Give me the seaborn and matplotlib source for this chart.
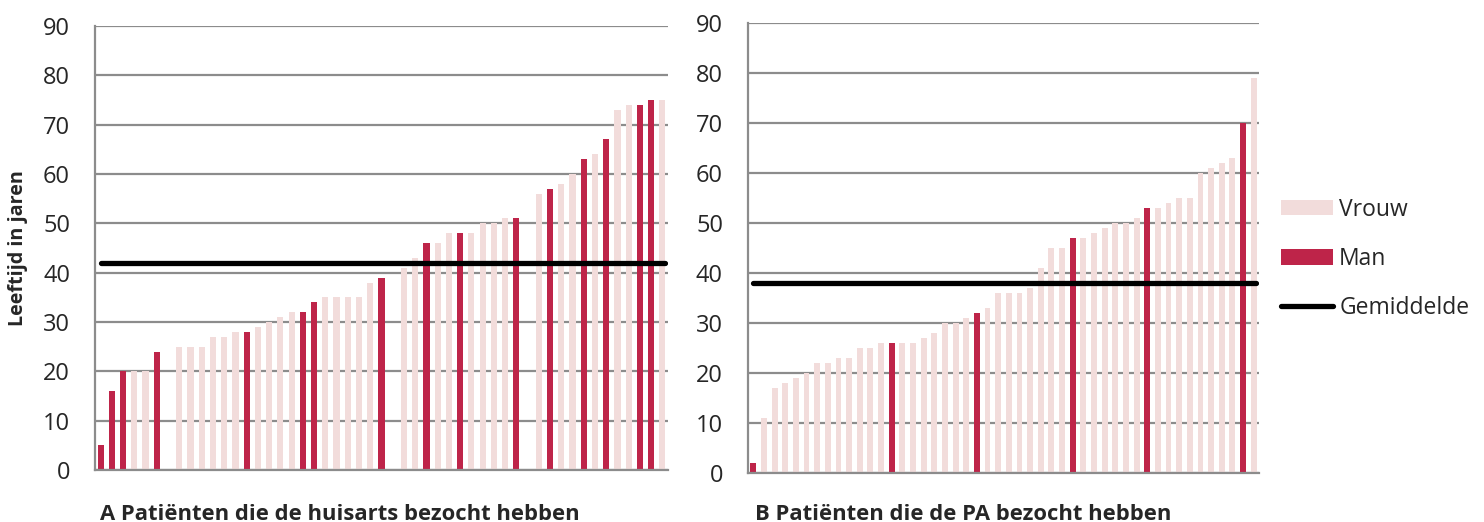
import numpy as np
import pandas as pd
import matplotlib
matplotlib.use('Agg')
import matplotlib.pyplot as plt
import seaborn as sns
from matplotlib.patches import Patch
from matplotlib.lines import Line2D

# leeftijd per patient, None = lege plek in de grafiek
ages_a = [5, 16, 20, 20, 20, 24, None, 25, 25, 25, 27, 27, 28, 28, 29, 30, 31, 32, 32, 34,
          35, 35, 35, 35, 38, 39, None, 41, 43, 46, 46, 48, 48, 48, 50, 50, 51, 51, None, 56,
          57, 58, 60, 63, 64, 67, 73, 74, 74, 75, 75]
sex_a = list('MMMVVM-VVVVVVMVVVVMMVVVVVM-VVMVVMVVVVM-VMVVMVMVVMMV')
mean_a = 42

ages_b = [2, 11, 17, 18, 19, 20, 22, 22, 23, 23, 25, 25, 26, 26, 26, 26, 27, 28, 30, 30,
          31, 32, 33, 36, 36, 36, 37, 41, 45, 45, 47, 47, 48, 49, 50, 50, 51, 53, 53, 54,
          55, 55, 60, 61, 62, 63, 70, 79]
sex_b = list('MVVVVVVVVVVVVMVVVVVVVMVVVVVVVVMVVVVVVMVVVVVVVVMV')
mean_b = 38

titles = ['A Patiënten die de huisarts bezocht hebben', 'B Patiënten die de PA bezocht hebben']
sex_names = {'V': 'Vrouw', 'M': 'Man'}

LIGHT = '#F2DCDB'
DARK = '#BE2449'
GRID = '#8C8C8C'

sns.set_style('white')
plt.rcParams['font.family'] = ['Open Sans', 'DejaVu Sans']

fig = plt.figure(figsize=(14.84, 5.22), dpi=100)
W, H = 1484, 522
ax_a = fig.add_axes([95 / W, 1 - 470 / H, 573 / W, 444 / H])
ax_b = fig.add_axes([748 / W, 1 - 473 / H, 511 / W, 450 / H])


def draw_panel(ax, ages, sexes, mean, title, title_x):
    n = len(ages)
    order = [str(i) for i in range(n)]
    df = pd.DataFrame({'pos': order, 'leeftijd': ages, 'sex': sexes})
    df = df[df['sex'] != '-'].copy()
    df['geslacht'] = df['sex'].map(sex_names)
    df['leeftijd'] = df['leeftijd'].astype(float)
    sns.barplot(data=df, x='pos', y='leeftijd', hue='geslacht', order=order,
                hue_order=['Vrouw', 'Man'], palette={'Vrouw': LIGHT, 'Man': DARK},
                dodge=False, width=0.55, errorbar=None, legend=False, ax=ax,
                linewidth=0, saturation=1)
    ax.set_ylim(0, 90)
    ax.set_xlim(-0.5, n - 0.5)
    ax.set_yticks(np.arange(0, 91, 10))
    ax.yaxis.grid(True, color=GRID, linewidth=1.6)
    ax.set_axisbelow(True)
    ax.set_xticks(np.arange(-0.5, n, 1))
    ax.set_xticklabels([])
    ax.tick_params(axis='x', length=7, width=1.5, color=GRID, direction='out')
    ax.tick_params(axis='y', length=7, width=1.6, color=GRID, direction='out',
                   labelsize=17, pad=11)
    for s in ['top', 'right']:
        ax.spines[s].set_visible(False)
    for s in ['left', 'bottom']:
        ax.spines[s].set_color(GRID)
        ax.spines[s].set_linewidth(1.6)
    ax.set_xlabel('')
    ax.set_ylabel('')
    ax.axhline(mean, xmin=0.01, xmax=0.995, color='black', linewidth=3.8,
               solid_capstyle='round', zorder=5)
    fig.text(title_x / W, 1 - 514 / H, title, fontsize=15.8, fontweight='bold',
             va='center', ha='left')


draw_panel(ax_a, ages_a, sex_a, mean_a, titles[0], 100)
draw_panel(ax_b, ages_b, sex_b, mean_b, titles[1], 755)

fig.text(18 / W, 1 - 248 / H, 'Leeftijd in jaren', rotation=90, fontsize=14.2,
         fontweight='bold', va='center', ha='center')

handles = [Patch(facecolor=LIGHT, edgecolor='none'),
           Patch(facecolor=DARK, edgecolor='none'),
           Line2D([0], [0], color='black', linewidth=3.8, solid_capstyle='round')]
fig.legend(handles, ['Vrouw', 'Man', 'Gemiddelde'], loc='center left',
           bbox_to_anchor=(1272 / W, 1 - 259 / H), frameon=False, fontsize=16.5,
           handlelength=2.27, handleheight=0.65, handletextpad=0.26, labelspacing=1.1,
           borderaxespad=0)

fig.savefig('out.png', dpi=100)
